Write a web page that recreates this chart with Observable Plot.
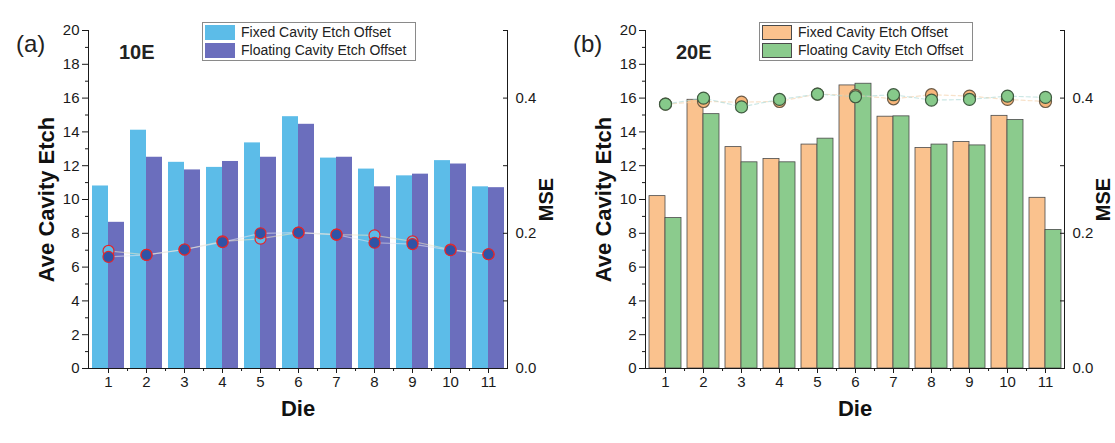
<!DOCTYPE html>
<html>
<head>
<meta charset="utf-8">
<script src="https://cdn.jsdelivr.net/npm/d3@7"></script>
<script src="https://cdn.jsdelivr.net/npm/@observablehq/plot@0.6"></script>
<style>
  html, body { margin: 0; padding: 0; background: #fff; }
  #wrap { position: relative; width: 1115px; height: 443px; overflow: hidden; background: #fff;
          font-family: "Liberation Sans", Arial, Helvetica, sans-serif; color: #222; }
  .panel { position: absolute; top: 0; width: 558px; height: 443px; }
  .tag { position: absolute; font-size: 24px; line-height: 1; }
  .name { position: absolute; font-size: 20px; font-weight: bold; line-height: 1; }
  .legend { position: absolute; left: 202px; top: 22px; width: 208px; border: 1px solid #8a8a8a;
            background: #fff; padding: 1px 2px; font-size: 14px; line-height: 17px; }
  .legend .row { display: flex; align-items: center; height: 17.5px; }
  .legend .sw { width: 30px; height: 15px; margin-right: 6px; box-sizing: border-box; }
</style>
</head>
<body>
<div id="wrap"></div>
<script>
// ---- data ----
const dies = [1, 2, 3, 4, 5, 6, 7, 8, 9, 10, 11];
const seriesNames = ["Fixed Cavity Etch Offset", "Floating Cavity Etch Offset"];

// panel (a) 10E
const fixedA = [10.8, 14.1, 12.2, 11.9, 13.35, 14.9, 12.45, 11.8, 11.4, 12.3, 10.75];
const floatA = [8.65, 12.5, 11.75, 12.25, 12.5, 14.45, 12.5, 10.75, 11.5, 12.1, 10.7];
const mseFixedA = [0.174, 0.168, 0.176, 0.188, 0.192, 0.201, 0.198, 0.197, 0.188, 0.176, 0.169];
const mseFloatA = [0.165, 0.168, 0.176, 0.187, 0.200, 0.201, 0.198, 0.186, 0.184, 0.175, 0.169];

// panel (b) 20E
const fixedB = [10.2, 15.9, 13.1, 12.4, 13.25, 16.75, 14.9, 13.05, 13.4, 14.95, 10.1];
const floatB = [8.9, 15.05, 12.2, 12.2, 13.6, 16.85, 14.92, 13.25, 13.2, 14.7, 8.2];
const mseFixedB = [0.391, 0.395, 0.394, 0.395, 0.406, 0.404, 0.399, 0.405, 0.403, 0.398, 0.395];
const mseFloatB = [0.391, 0.400, 0.387, 0.398, 0.406, 0.402, 0.405, 0.397, 0.398, 0.403, 0.401];

// axes
const yTicks = [0, 2, 4, 6, 8, 10, 12, 14, 16, 18, 20];
const yMinor = [1, 3, 5, 7, 9, 11, 13, 15, 17, 19];
const yMax = 20;
const mseMax = 0.5;
const mseTicks = [0, 0.1, 0.2, 0.3, 0.4, 0.5];
const mseLabels = [0, 0.2, 0.4];

// ---- drawing ----
const W = 558, H = 443, ML = 88, MR = 51, MT = 30, MB = 75;
const PADI = 0.16;
const k = yMax / mseMax;
const step = (W - ML - MR) / dies.length;
const half = step * (1 - PADI) / 2;

function panel(cfg) {
  const rows = dies.map((d, i) => ({
    die: d, fixed: cfg.fixed[i], floating: cfg.floating[i],
    mseFixed: cfg.mseFixed[i], mseFloat: cfg.mseFloat[i]
  }));
  const ink = "#1a1a1a";
  const fs = 15;
  return Plot.plot({
    width: W, height: H,
    marginLeft: ML, marginRight: MR, marginTop: MT, marginBottom: MB,
    style: { fontFamily: "Liberation Sans, Arial, sans-serif", fontSize: "15px", color: ink, background: "transparent", overflow: "visible" },
    x: { type: "band", domain: dies, paddingInner: PADI, paddingOuter: PADI / 2 },
    y: { domain: [0, yMax] },
    marks: [
      Plot.barY(rows, { x: "die", y: "fixed", fill: cfg.c1, stroke: cfg.barStroke, strokeWidth: 0.8, insetRight: half }),
      Plot.barY(rows, { x: "die", y: "floating", fill: cfg.c2, stroke: cfg.barStroke, strokeWidth: 0.8, insetLeft: half }),
      Plot.lineY(rows, { x: "die", y: d => d.mseFixed * k, stroke: cfg.line1, strokeWidth: 1.2, strokeOpacity: cfg.lineOpacity, strokeDasharray: cfg.dash }),
      Plot.lineY(rows, { x: "die", y: d => d.mseFloat * k, stroke: cfg.line2, strokeWidth: 1.2, strokeOpacity: cfg.lineOpacity, strokeDasharray: cfg.dash }),
      Plot.dot(rows, { x: "die", y: d => d.mseFixed * k, r: cfg.r, fill: cfg.p1, stroke: cfg.ps1, strokeWidth: 1.2 }),
      Plot.dot(rows, { x: "die", y: d => d.mseFloat * k, r: cfg.r, fill: cfg.p2, stroke: cfg.ps2, strokeWidth: 1.2 }),
      Plot.frame({ anchor: "left", stroke: ink }),
      Plot.frame({ anchor: "bottom", stroke: ink }),
      Plot.frame({ anchor: "right", stroke: ink }),
      // left axis
      Plot.axisY(yTicks, { anchor: "left", tickSize: 6, tickPadding: 3, label: null, stroke: ink, fill: ink, fontSize: fs }),
      Plot.axisY(yMinor, { anchor: "left", tickSize: 3, tickFormat: () => "", label: null, stroke: ink }),
      // bottom axis
      Plot.axisX(dies, { anchor: "bottom", tickSize: 5, tickPadding: 3, label: null, stroke: ink, fill: ink, fontSize: fs }),
      Plot.axisX(dies.slice(0, -1), { anchor: "bottom", tickSize: 3, tickFormat: () => "", label: null, dx: step / 2, stroke: ink }),
      // right (MSE) axis, ticks pointing inward
      Plot.axisY(mseTicks.map(m => m * k), { anchor: "right", tickSize: 5, dx: -5, tickFormat: () => "", label: null, stroke: ink }),
      Plot.axisY(mseLabels.map(m => m * k), { anchor: "right", tickSize: 0, tickPadding: 8, tickFormat: d => (d / k).toFixed(1), label: null, fill: ink, fontSize: fs }),
      // axis titles
      Plot.text(["Ave Cavity Etch"], { text: d => d, frameAnchor: "left", textAnchor: "middle", rotate: -90, dx: -42, fontSize: 22, fontWeight: "bold", fill: "#111" }),
      Plot.text(["Die"], { text: d => d, frameAnchor: "bottom", textAnchor: "middle", dy: 47, fontSize: 22, fontWeight: "bold", fill: "#111" }),
      Plot.text(["MSE"], { text: d => d, frameAnchor: "right", textAnchor: "middle", rotate: -90, dx: 39, fontSize: 20, fontWeight: "bold", fill: "#111" })
    ]
  });
}

const panels = [
  { left: 0, tag: "(a)", name: "10E", fixed: fixedA, floating: floatA, mseFixed: mseFixedA, mseFloat: mseFloatA,
    c1: "#5cbce8", c2: "#6b6ebd", barStroke: "none", r: 5.5,
    p1: "#5cbce8", ps1: "#e3262b", p2: "#2f53a6", ps2: "#e3262b",
    line1: "#efe6c2", line2: "#e6e6ee", lineOpacity: 0.55, dash: null },
  { left: 557, tag: "(b)", name: "20E", fixed: fixedB, floating: floatB, mseFixed: mseFixedB, mseFloat: mseFloatB,
    c1: "#fac28e", c2: "#8bcb8d", barStroke: "#4a4a4a", r: 6,
    p1: "#f7b57a", ps1: "#6b5a45", p2: "#86c98a", ps2: "#3f5a40",
    line1: "#f3cfa6", line2: "#a9d7d3", lineOpacity: 0.6, dash: "4,3" }
];

const wrap = document.getElementById("wrap");
for (const p of panels) {
  const div = document.createElement("div");
  div.className = "panel";
  div.style.left = p.left + "px";
  div.appendChild(panel(p));

  const tag = document.createElement("div");
  tag.className = "tag"; tag.textContent = p.tag;
  tag.style.left = "16px"; tag.style.top = "32px";
  div.appendChild(tag);

  const name = document.createElement("div");
  name.className = "name"; name.textContent = p.name;
  name.style.left = "119px"; name.style.top = "42px";
  div.appendChild(name);

  const leg = document.createElement("div");
  leg.className = "legend";
  [p.c1, p.c2].forEach((c, i) => {
    const row = document.createElement("div"); row.className = "row";
    const sw = document.createElement("div"); sw.className = "sw"; sw.style.background = c;
    if (p.barStroke !== "none") sw.style.border = "1px solid " + p.barStroke;
    const t = document.createElement("span"); t.textContent = seriesNames[i];
    row.appendChild(sw); row.appendChild(t); leg.appendChild(row);
  });
  div.appendChild(leg);
  wrap.appendChild(div);
}
</script>
</body>
</html>
